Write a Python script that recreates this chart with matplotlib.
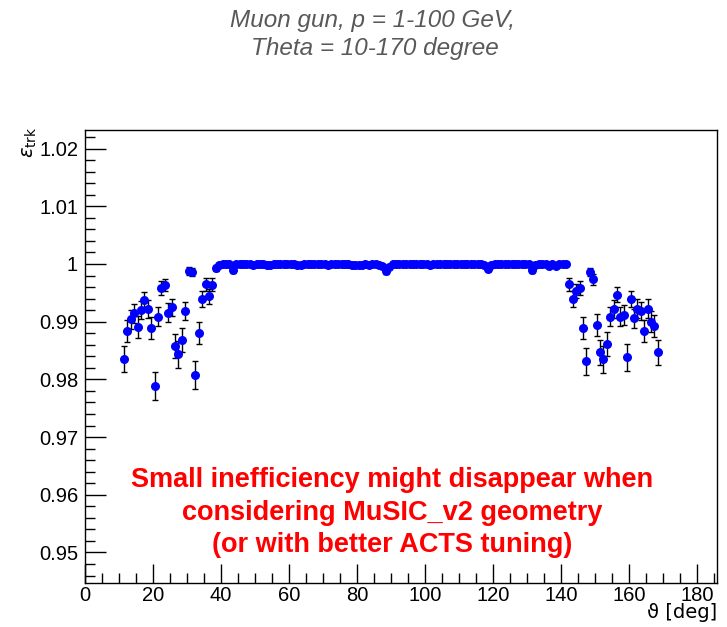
import numpy as np
import matplotlib
matplotlib.use("Agg")
import matplotlib.pyplot as plt
from matplotlib.ticker import MultipleLocator, FuncFormatter

# Bin centres (1 degree bins, 11-169 deg)
theta = np.arange(11.5, 169.0, 1.0)

eff_left = [0.9835, 0.98844, 0.99041, 0.99145, 0.98913, 0.99203, 0.99376, 0.99220,
            0.98896, 0.97886, 0.99087, 0.99579, 0.99636, 0.99156, 0.99249, 0.98584,
            0.98435, 0.98677, 0.99185, 0.99884, 0.99855, 0.98071, 0.98809, 0.99393,
            0.99648, 0.99445, 0.99642]
err_left = [0.0023, 0.0019, 0.0017, 0.0016, 0.0019, 0.0016, 0.0014, 0.0016,
            0.0019, 0.0025, 0.0017, 0.0012, 0.0011, 0.0016, 0.0015, 0.0021,
            0.0023, 0.0021, 0.0016, 0.0007, 0.0007, 0.0024, 0.0019, 0.0014,
            0.0011, 0.0013, 0.0011]

# 38.5 ... 141.5 deg
eff_mid = [0.99936, 0.99990, 1.0, 1.0, 1.0, 0.99900, 1.0, 1.0, 1.0, 1.0,
           1.0, 0.99985, 1.0, 1.0, 1.0, 0.99980, 0.99980, 1.0, 1.0, 1.0,
           1.0, 1.0, 1.0, 1.0, 0.99980, 0.99985, 1.0, 1.0, 1.0, 1.0,
           1.0, 1.0, 1.0, 0.99985, 1.0, 1.0, 1.0, 1.0, 1.0, 1.0,
           0.99985, 0.99980, 0.99985, 0.99980, 1.0, 0.99985, 1.0, 1.0, 0.99985, 0.99960,
           0.99870, 0.99950, 1.0, 1.0, 1.0, 1.0, 1.0, 1.0, 1.0, 1.0,
           1.0, 1.0, 1.0, 0.99985, 1.0, 1.0, 1.0, 1.0, 1.0, 1.0,
           1.0, 1.0, 1.0, 1.0, 1.0, 1.0, 1.0, 1.0, 1.0, 0.99990,
           0.99920, 0.99985, 1.0, 1.0, 1.0, 1.0, 1.0, 1.0, 1.0, 1.0,
           1.0, 1.0, 1.0, 0.99900, 0.99985, 1.0, 1.0, 1.0, 0.99960, 1.0,
           0.99970, 1.0, 1.0, 1.0]
err_mid = [0.0005 if v < 0.9995 else (0.0003 if v < 0.9999 else 0.0001) for v in eff_mid]

# 142.5 ... 168.5 deg
eff_right = [0.99648, 0.99393, 0.99532, 0.99578, 0.98896, 0.98313, 0.99855, 0.99734,
             0.98948, 0.98469, 0.98348, 0.98619, 0.99087, 0.99220, 0.99463, 0.99087,
             0.99116, 0.98382, 0.99393, 0.99058, 0.99226, 0.99185, 0.98844, 0.99226,
             0.99000, 0.98930, 0.98469]
err_right = [0.0011, 0.0014, 0.0012, 0.0012, 0.0019, 0.0023, 0.0007, 0.0009,
             0.0019, 0.0022, 0.0023, 0.0021, 0.0017, 0.0016, 0.0013, 0.0017,
             0.0017, 0.0023, 0.0014, 0.0017, 0.0016, 0.0016, 0.0019, 0.0016,
             0.0018, 0.0019, 0.0022]

eff = np.array(eff_left + eff_mid + eff_right)
err = np.array(err_left + err_mid + err_right)

title_lines = ["Muon gun, p = 1-100 GeV,", "Theta = 10-170 degree"]
note_lines = ["Small inefficiency might disappear when",
              "considering MuSIC_v2 geometry",
              "(or with better ACTS tuning)"]

plt.rcParams['font.family'] = ['Liberation Sans', 'DejaVu Sans']

fig = plt.figure(figsize=(7.27, 6.27), dpi=100)
ax = fig.add_axes([85/727, 1-583/627, (717-85)/727, (583-130)/627])

ax.errorbar(theta, eff, yerr=err, fmt='none', ecolor='black', elinewidth=1.0,
            capsize=2.5, capthick=1.0, zorder=2)
ax.plot(theta, eff, 'o', color='#0000ff', markersize=6.5, markeredgewidth=0, zorder=3)

ax.set_xlim(0, 185.9)
ax.set_ylim(0.94471, 1.02322)

ax.xaxis.set_major_locator(MultipleLocator(20))
ax.xaxis.set_minor_locator(MultipleLocator(5))
ax.yaxis.set_major_locator(MultipleLocator(0.01))
ax.yaxis.set_minor_locator(MultipleLocator(0.002))
ax.yaxis.set_major_formatter(FuncFormatter(lambda v, p: f"{v:g}" if abs(v) > 1e-9 else "0"))
ax.xaxis.set_major_formatter(FuncFormatter(lambda v, p: f"{v:g}"))

ax.tick_params(which='both', direction='in', top=False, right=False, labelsize=14.5,
               width=1.0, colors='black')
ax.tick_params(axis='y', which='major', length=15, pad=5)
ax.tick_params(axis='y', which='minor', length=7.5)
ax.tick_params(axis='x', which='major', length=14, pad=2)
ax.tick_params(axis='x', which='minor', length=7)
for s in ax.spines.values():
    s.set_linewidth(1.0)

fig.text(30/727, 1-142/627, r"$\varepsilon_{\rm trk}$", rotation=90, ha='center', va='center',
         fontsize=14)
fig.text(717/727, 1-613/627, "\u03d1 [deg]", ha='right', va='center', fontsize=14,
         family=['DejaVu Sans'])

fig.text(372/727, 1-20/627, title_lines[0], ha='center', va='center', fontsize=17.5,
         style='italic', color='#595959')
fig.text(375/727, 1-48/627, title_lines[1], ha='center', va='center', fontsize=17.5,
         style='italic', color='#595959')

for i, line in enumerate(note_lines):
    fig.text(392/727, 1-(480+32.5*i)/627, line, ha='center', va='center', fontsize=19.5,
             fontweight='bold', color='#ff0000')

fig.savefig("out.png", dpi=100)
